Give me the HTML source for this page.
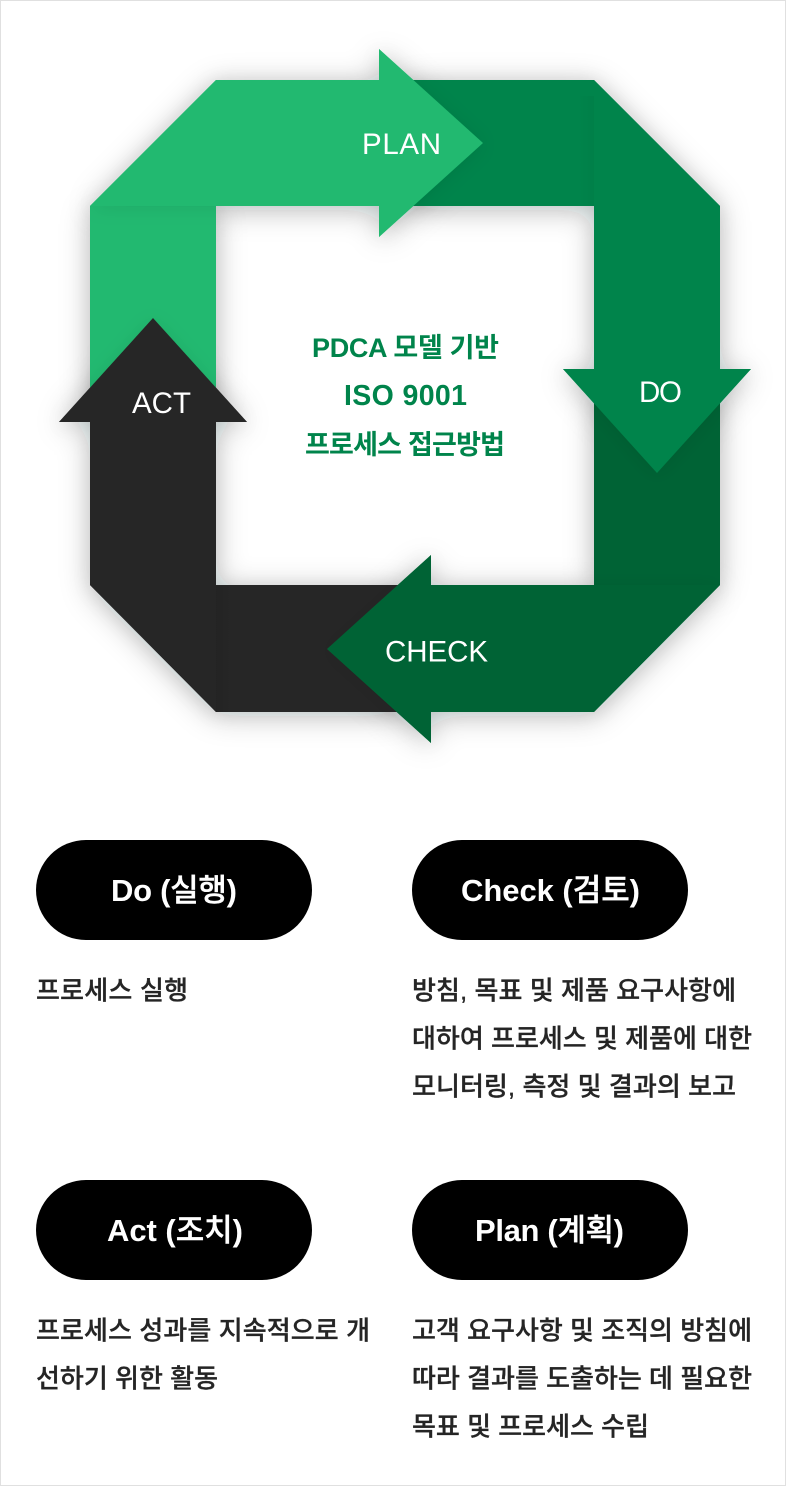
<!DOCTYPE html>
<html lang="ko"><head><meta charset="utf-8"><title>PDCA</title>
<style>
html,body{margin:0;padding:0;background:#fff}
svg{display:block}
text{font-family:"Liberation Sans","Noto Sans CJK KR",sans-serif}
.l{font-size:29.5px;fill:#fff}
.c{font-size:27px;font-weight:700;fill:#00844b}
.b{font-size:31px;font-weight:700;fill:#fff}
.b tspan{font-weight:500;stroke:#fff;stroke-width:.4px}
.d{font-size:26px;font-weight:500;fill:#252525;stroke:#252525;stroke-width:.3px}
</style></head><body>
<svg width="786" height="1486" viewBox="0 0 786 1486" xmlns="http://www.w3.org/2000/svg">
<defs>
<filter id="s" x="-30%" y="-30%" width="160%" height="160%"><feDropShadow dx="0" dy="4" stdDeviation="15" flood-color="#0a2a1a" flood-opacity=".24"/></filter>
<filter id="w" x="-30%" y="-30%" width="160%" height="160%"><feDropShadow dx="0" dy="2" stdDeviation="9" flood-color="#000" flood-opacity=".08"/></filter>
<linearGradient id="seam" x1="0" x2="1" y1="0" y2="0"><stop offset="0" stop-color="#000" stop-opacity="0"/><stop offset="1" stop-color="#000" stop-opacity=".035"/></linearGradient>
<linearGradient id="seam2" x1="0" x2="1" y1="0" y2="0"><stop offset="0" stop-color="#000" stop-opacity=".12"/><stop offset="1" stop-color="#000" stop-opacity="0"/></linearGradient>
<polygon id="p1" points="90,206 216,206 216,400 90,400" fill="#20b96f"/>
<polygon id="p2" points="90,422 59,422 153,318 247,422 216,422 216,585 400,585 400,712 216,712 90,585" fill="#272727"/>
<polygon id="p3" points="594,400 720,400 720,585 594,585" fill="#006435"/>
<polygon id="p4" points="720,585 594,712 431,712 431,743 327,649 431,555 431,585" fill="#006435"/>
<polygon id="p5" points="410,80 594,80 720,206 720,369 751,369 657,473 563,369 594,369 594,206 410,206" fill="#00844b"/>
<polygon id="p6" points="90,206 216,80 379,80 379,49 483,143 379,237 379,206" fill="#20b96f"/>
</defs>
<rect x=".5" y=".5" width="785" height="1485" fill="#fff" stroke="#e0e0e0"/>
<g filter="url(#s)"><use href="#p1"/></g>
<g filter="url(#s)"><use href="#p2"/></g>
<g filter="url(#s)"><use href="#p3"/></g>
<g filter="url(#s)"><use href="#p4"/></g>
<g filter="url(#s)"><use href="#p5"/></g>
<g filter="url(#s)"><use href="#p6"/></g>

<g filter="url(#w)"><use href="#p1"/></g>
<g filter="url(#w)"><use href="#p2"/></g>
<rect x="216" y="586" width="16" height="126" fill="url(#seam2)" opacity=".6"/>
<g filter="url(#w)"><use href="#p3"/></g>
<g filter="url(#w)"><use href="#p4"/></g>
<g filter="url(#w)"><use href="#p5"/></g>
<rect x="578" y="96" width="16" height="110" fill="url(#seam)"/>
<g filter="url(#w)"><use href="#p6"/></g>

<text class="l" x="362" y="154" textLength="79">PLAN</text>
<text class="l" x="639" y="402" textLength="43">DO</text>
<text class="l" x="385" y="661.5" textLength="103">CHECK</text>
<text class="l" x="132" y="413" textLength="59">ACT</text>

<text class="c" x="312" y="357" textLength="187">PDCA 모델 기반</text>
<text class="c" x="344" y="405" textLength="123" style="font-size:28.5px">ISO 9001</text>
<text class="c" x="305" y="454" textLength="200">프로세스 접근방법</text>

<rect x="36" y="840" width="276" height="100" rx="50" fill="#000"/>
<rect x="412" y="840" width="276" height="100" rx="50" fill="#000"/>
<rect x="36" y="1180" width="276" height="100" rx="50" fill="#000"/>
<rect x="412" y="1180" width="276" height="100" rx="50" fill="#000"/>
<text class="b" x="111" y="901" textLength="126">Do (<tspan>실행</tspan>)</text>
<text class="b" x="461" y="901" textLength="179">Check (<tspan>검토</tspan>)</text>
<text class="b" x="107" y="1241" textLength="136">Act (<tspan>조치</tspan>)</text>
<text class="b" x="475" y="1241" textLength="149">Plan (<tspan>계획</tspan>)</text>

<text class="d" x="36" y="999.5" textLength="152">프로세스 실행</text>
<text class="d" x="412" y="999.5" textLength="324">방침, 목표 및 제품 요구사항에</text>
<text class="d" x="412" y="1047.5" textLength="340">대하여 프로세스 및 제품에 대한</text>
<text class="d" x="412" y="1095.5" textLength="324">모니터링, 측정 및 결과의 보고</text>
<text class="d" x="36" y="1339.5" textLength="334">프로세스 성과를 지속적으로 개</text>
<text class="d" x="36" y="1387.5" textLength="182">선하기 위한 활동</text>
<text class="d" x="412" y="1339.5" textLength="340">고객 요구사항 및 조직의 방침에</text>
<text class="d" x="412" y="1387.5" textLength="340">따라 결과를 도출하는 데 필요한</text>
<text class="d" x="412" y="1435.5" textLength="237">목표 및 프로세스 수립</text>
</svg>
</body></html>
